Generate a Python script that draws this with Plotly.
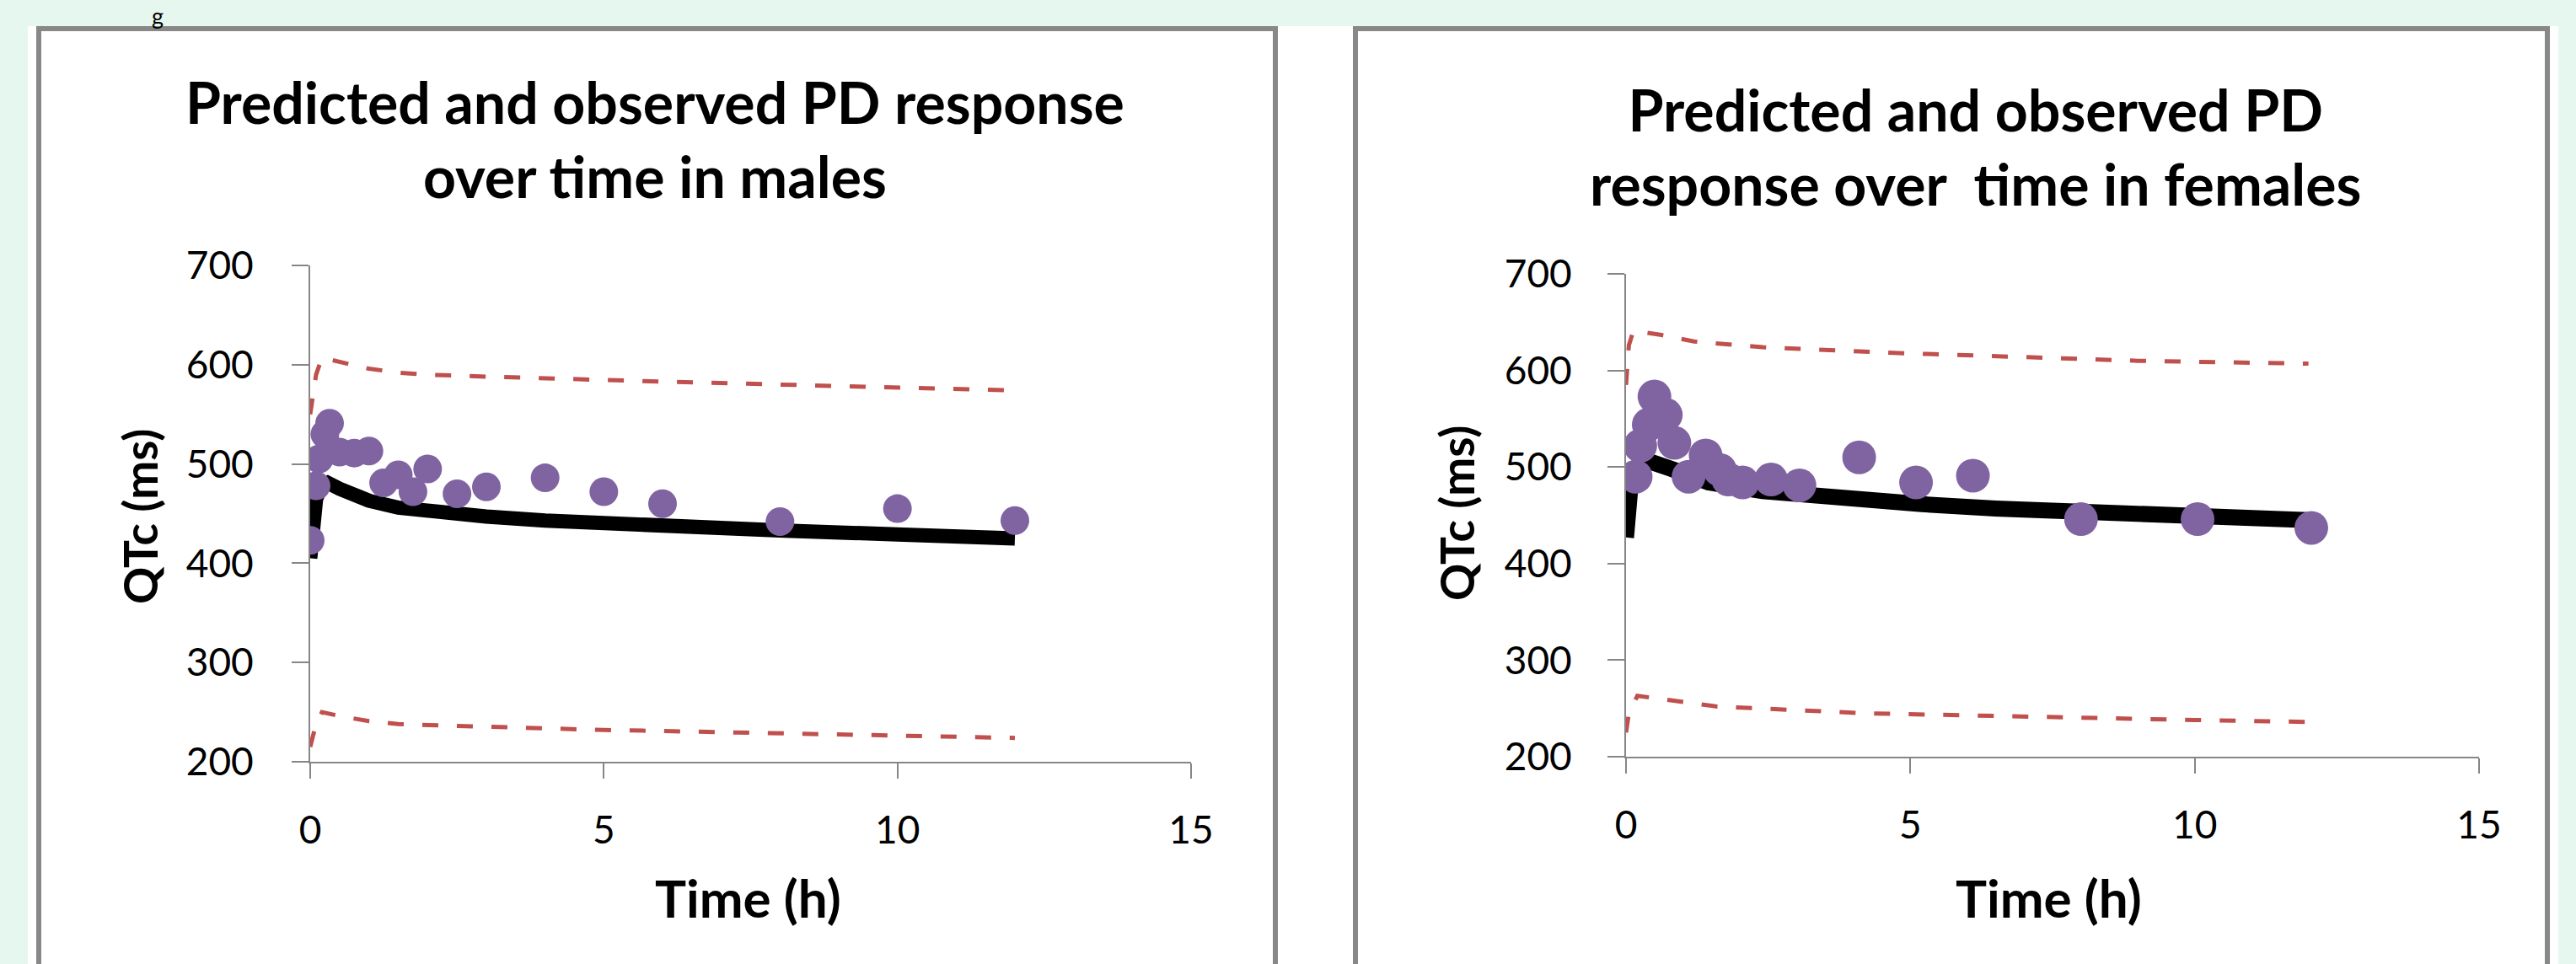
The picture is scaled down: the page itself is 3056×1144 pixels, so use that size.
import plotly.graph_objects as go

W, H = 3056, 1144

# ---------------- data ----------------
# Males
male_obs_t = [0, 0.1, 0.15, 0.25, 0.33, 0.5, 0.75, 1.0, 1.25, 1.5, 1.75, 2, 2.5, 3, 4, 5, 6, 8, 10, 12]
male_obs_v = [423, 478, 505, 530, 541, 512, 511, 513, 481, 489, 472, 495, 470, 477, 486, 472, 460, 442, 455, 443]

male_pred_t = [0, 0.05, 0.1, 0.2, 0.3, 0.5, 0.75, 1, 1.5, 2, 3, 4, 5, 6, 8, 10, 12]
male_pred_v = [405, 440, 465, 478, 481, 475, 468, 463, 456, 452, 447, 443, 440, 437, 433, 429, 425]

male_band_t = [0, 0.1, 0.2, 0.5, 1, 1.5, 2, 3, 4, 5, 6, 8, 10, 12]
male_upper_v = [550, 590, 607, 603, 596, 592, 590, 588, 586, 584, 583, 580, 577, 574]
male_lower_v = [215, 238, 250, 246, 241, 238, 237, 235, 233, 232, 231, 229, 227, 224]

# Females
female_obs_t = [0.17, 0.25, 0.4, 0.5, 0.7, 0.85, 1.1, 1.4, 1.65, 1.8, 2.05, 2.55, 3.05, 4.1, 5.1, 6.1, 8.0, 10.05, 12.05]
female_obs_v = [490, 522, 544, 573, 554, 525, 490, 512, 497, 487, 484, 487, 481, 510, 484, 491, 446, 446, 437]

female_pred_t = [0, 0.03, 0.1, 0.25, 0.45, 0.8, 1.45, 2.4, 3.8, 5.2, 6.5, 8, 10, 12]
female_pred_v = [427, 470, 495, 504, 505, 498, 484, 475, 467, 461.5, 457, 453, 449, 445]

female_upper_t = [0, 0.05, 0.13, 0.6, 1.2, 2.4, 4.8, 7.1, 9, 12]
female_upper_v = [585, 626, 641, 637, 630, 624, 618, 614, 610, 607]
female_lower_t = [0, 0.05, 0.2, 0.85, 1.6, 4.2, 7.1, 10, 12]
female_lower_v = [225, 245, 263, 258, 252, 245, 241, 238, 236]

x_ticks = [0, 5, 10, 15]
y_ticks = [200, 300, 400, 500, 600, 700]

titles = ["<b>Predicted and observed PD response<br>over time in males</b>",
          "<b>Predicted and observed PD<br>response over  time in females</b>"]
y_title = "<b>QTc (ms)</b>"
x_title = "<b>Time (h)</b>"
top_fragment = "g"

# ---------------- styling ----------------
FONT = "Lato"
RED = "#C0504D"
PURPLE = "#8064A2"
GRAY = "#868686"
BG = "#E6F7EF"


def px(x):
    return x / W


def py(y):
    return 1 - y / H


fig = go.Figure()

panels = [
    dict(xa="x", ya="y", obs=(male_obs_t, male_obs_v), pred=(male_pred_t, male_pred_v),
         up=(male_band_t, male_upper_v), lo=(male_band_t, male_lower_v), msize=34, lw=17),
    dict(xa="x2", ya="y2", obs=(female_obs_t, female_obs_v), pred=(female_pred_t, female_pred_v),
         up=(female_upper_t, female_upper_v), lo=(female_lower_t, female_lower_v), msize=40, lw=19),
]

for p in panels:
    for band in (p["up"], p["lo"]):
        fig.add_trace(go.Scatter(x=band[0], y=band[1], mode="lines", xaxis=p["xa"], yaxis=p["ya"],
                                 line=dict(color=RED, width=5, dash="19px,22px"),
                                 showlegend=False, hoverinfo="skip"))
    fig.add_trace(go.Scatter(x=p["pred"][0], y=p["pred"][1], mode="lines", xaxis=p["xa"], yaxis=p["ya"],
                             line=dict(color="black", width=p["lw"]), showlegend=False))
    fig.add_trace(go.Scatter(x=p["obs"][0], y=p["obs"][1], mode="markers", xaxis=p["xa"], yaxis=p["ya"],
                             marker=dict(color=PURPLE, size=p["msize"], line=dict(width=0)),
                             showlegend=False))

axis_common = dict(showgrid=False, zeroline=False, showline=True, linecolor=GRAY, linewidth=2,
                   ticks="outside", tickcolor=GRAY, tickwidth=2, mirror=False, automargin=False,
                   tickfont=dict(family=FONT, size=46, color="black"))

fig.update_layout(
    template="none",
    width=W, height=H,
    margin=dict(l=0, r=0, t=0, b=0, pad=0),
    paper_bgcolor=BG, plot_bgcolor="rgba(0,0,0,0)",
    showlegend=False,
    xaxis=dict(domain=[px(368), px(1413)], range=[0, 15], tickvals=x_ticks, anchor="y",
               ticklen=18, ticklabelstandoff=22, **axis_common),
    yaxis=dict(domain=[py(904), py(315)], range=[200, 700], tickvals=y_ticks, anchor="x",
               ticklen=20, ticklabelstandoff=36, **axis_common),
    xaxis2=dict(domain=[px(1929), px(2941)], range=[0, 15], tickvals=x_ticks, anchor="y2",
                ticklen=18, ticklabelstandoff=22, **axis_common),
    yaxis2=dict(domain=[py(898), py(325)], range=[200, 700], tickvals=y_ticks, anchor="x2",
                ticklen=20, ticklabelstandoff=33, **axis_common),
)

shapes = [
    # white page area
    dict(type="rect", xref="paper", yref="paper", x0=px(33), x1=px(3035), y0=0, y1=py(31),
         fillcolor="white", line=dict(width=0), layer="below"),
    # panel frames (bottom edge runs off the picture)
    dict(type="path", xref="paper", yref="paper",
         path=f"M {px(46)} 0 L {px(46)} {py(34)} L {px(1513)} {py(34)} L {px(1513)} 0",
         line=dict(color="#888888", width=6), layer="below"),
    dict(type="path", xref="paper", yref="paper",
         path=f"M {px(1608)} 0 L {px(1608)} {py(34)} L {px(3022)} {py(34)} L {px(3022)} 0",
         line=dict(color="#888888", width=6), layer="below"),
]
fig.update_layout(shapes=shapes)

annotations = [
    dict(text=titles[0], x=px(777), y=py(165), xref="paper", yref="paper", showarrow=False,
         font=dict(family=FONT, size=68, color="black"), xanchor="center", yanchor="middle"),
    dict(text=titles[1], x=px(2343), y=py(174), xref="paper", yref="paper", showarrow=False,
         font=dict(family=FONT, size=68, color="black"), xanchor="center", yanchor="middle"),
    dict(text=y_title, x=px(166), y=py(613), xref="paper", yref="paper", showarrow=False, textangle=-90,
         font=dict(family=FONT, size=55, color="black"), xanchor="center", yanchor="middle"),
    dict(text=y_title, x=px(1728), y=py(609), xref="paper", yref="paper", showarrow=False, textangle=-90,
         font=dict(family=FONT, size=55, color="black"), xanchor="center", yanchor="middle"),
    dict(text=x_title, x=px(887), y=py(1065), xref="paper", yref="paper", showarrow=False,
         font=dict(family=FONT, size=62, color="black"), xanchor="center", yanchor="middle"),
    dict(text=x_title, x=px(2430), y=py(1065), xref="paper", yref="paper", showarrow=False,
         font=dict(family=FONT, size=62, color="black"), xanchor="center", yanchor="middle"),
    dict(text=top_fragment, x=px(187), y=1, xref="paper", yref="paper", showarrow=False,
         font=dict(family=FONT, size=27, color="black"), xanchor="center", yanchor="top"),
]
fig.update_layout(annotations=annotations)

fig.write_html("out.html", config={"displayModeBar": False},
               post_script="document.body.style.margin='0';document.body.style.overflow='hidden';")
